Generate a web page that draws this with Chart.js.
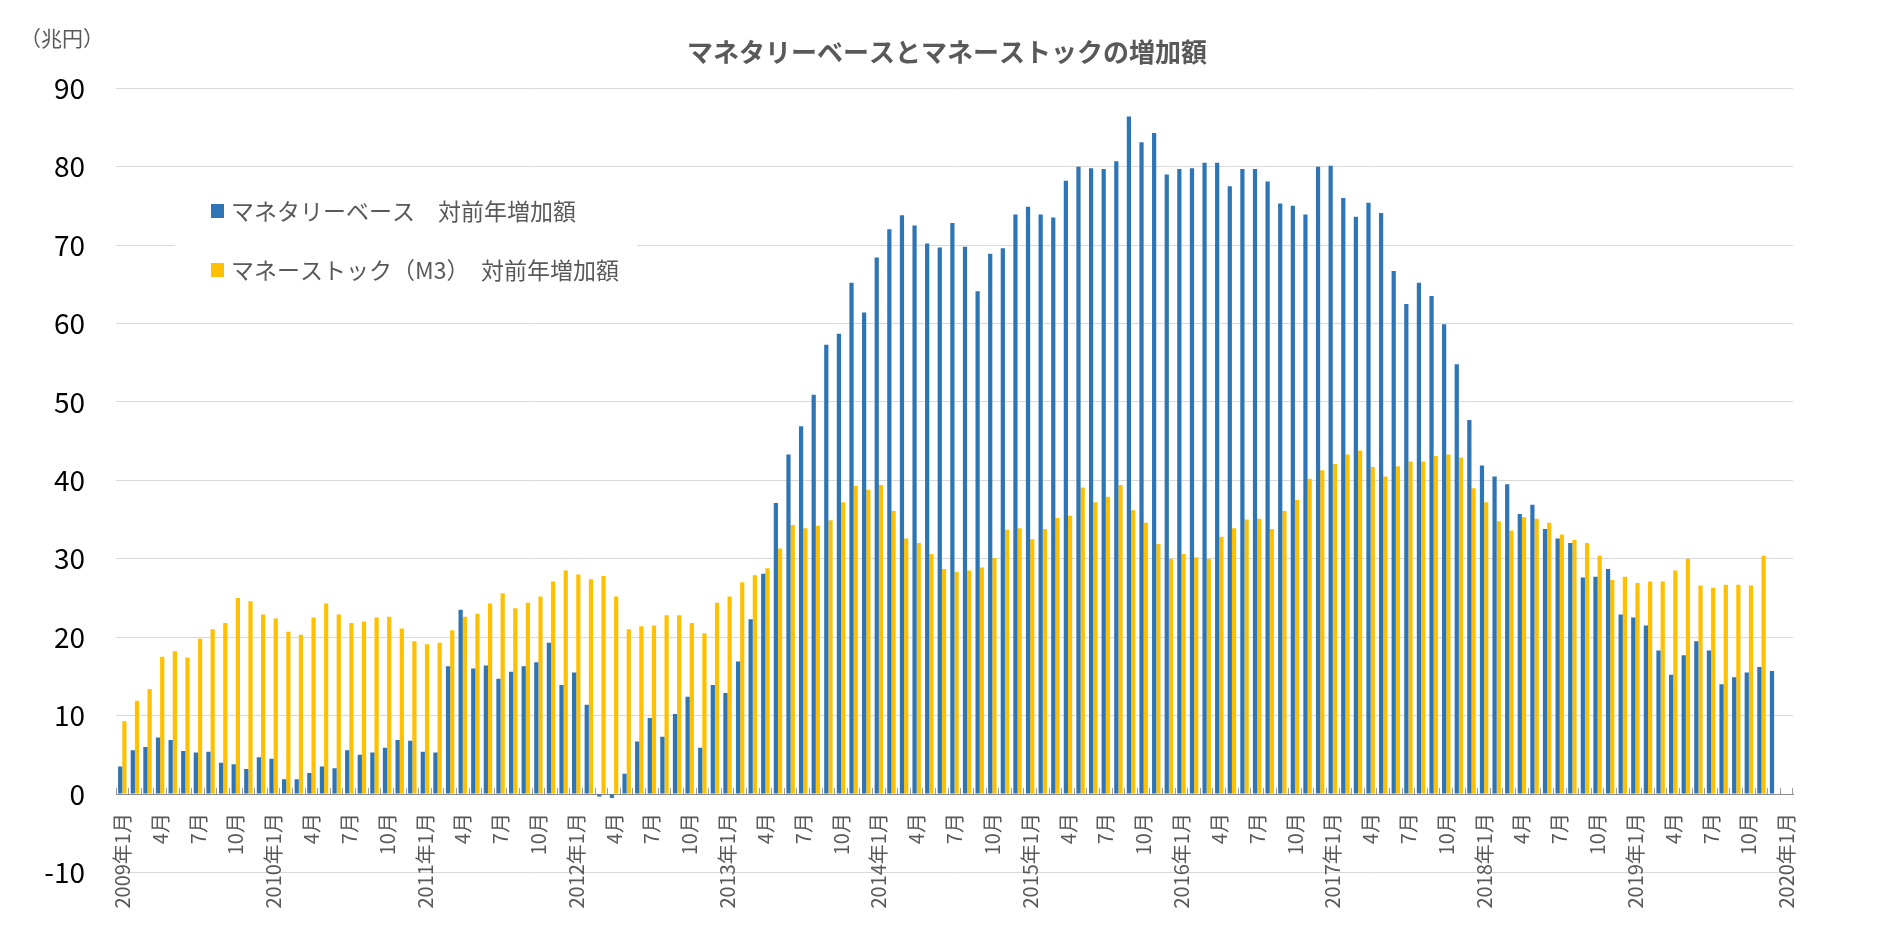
<!DOCTYPE html>
<html>
<head>
<meta charset="utf-8">
<script src="https://cdn.jsdelivr.net/npm/chart.js@4.4.1/dist/chart.umd.min.js"></script>
<style>
html,body{margin:0;padding:0;background:#fff;}
#wrap{width:1891px;height:946px;position:relative;}
</style>
</head>
<body>
<div id="wrap"><canvas id="c"></canvas></div>
<script>
const chartTitle = 'マネタリーベースとマネーストックの増加額';
const unitLabel = '（兆円）';
const seriesNames = ['マネタリーベース　対前年増加額', 'マネーストック（M3）　対前年増加額'];
const seriesColors = ['#2E75B6', '#FFC000'];

const categories = [
  '2009年1月','2月','3月','4月','5月','6月','7月','8月','9月','10月','11月','12月',
  '2010年1月','2月','3月','4月','5月','6月','7月','8月','9月','10月','11月','12月',
  '2011年1月','2月','3月','4月','5月','6月','7月','8月','9月','10月','11月','12月',
  '2012年1月','2月','3月','4月','5月','6月','7月','8月','9月','10月','11月','12月',
  '2013年1月','2月','3月','4月','5月','6月','7月','8月','9月','10月','11月','12月',
  '2014年1月','2月','3月','4月','5月','6月','7月','8月','9月','10月','11月','12月',
  '2015年1月','2月','3月','4月','5月','6月','7月','8月','9月','10月','11月','12月',
  '2016年1月','2月','3月','4月','5月','6月','7月','8月','9月','10月','11月','12月',
  '2017年1月','2月','3月','4月','5月','6月','7月','8月','9月','10月','11月','12月',
  '2018年1月','2月','3月','4月','5月','6月','7月','8月','9月','10月','11月','12月',
  '2019年1月','2月','3月','4月','5月','6月','7月','8月','9月','10月','11月','12月',
  '2020年1月'
];

// マネタリーベース 対前年増加額 (兆円)
const monetaryBase = [
  3.5, 5.6, 6.0, 7.2, 6.9, 5.5, 5.3, 5.4, 4.0, 3.8, 3.2, 4.7,
  4.5, 1.9, 1.9, 2.7, 3.5, 3.3, 5.6, 5.0, 5.3, 5.9, 6.9, 6.8,
  5.4, 5.3, 16.3, 23.5, 16.0, 16.4, 14.7, 15.6, 16.3, 16.8, 19.3, 13.9,
  15.5, 11.4, -0.3, -0.5, 2.6, 6.7, 9.7, 7.3, 10.2, 12.4, 5.9, 13.9,
  12.9, 16.9, 22.3, 28.1, 37.1, 43.3, 46.9, 50.9, 57.3, 58.7, 65.2, 61.4,
  68.4, 72.0, 73.8, 72.5, 70.2, 69.7, 72.8, 69.8, 64.1, 68.9, 69.6, 73.9,
  74.9, 73.9, 73.5, 78.2, 80.0, 79.8, 79.7, 80.7, 86.4, 83.1, 84.3, 79.0,
  79.7, 79.8, 80.5, 80.5, 77.5, 79.7, 79.7, 78.1, 75.3, 75.0, 73.9, 80.0,
  80.1, 76.0, 73.6, 75.4, 74.1, 66.7, 62.5, 65.2, 63.5, 59.9, 54.8, 47.7,
  41.9, 40.5, 39.5, 35.7, 36.9, 33.8, 32.6, 32.0, 27.6, 27.7, 28.7, 22.9,
  22.5, 21.5, 18.3, 15.2, 17.7, 19.5, 18.3, 14.0, 14.9, 15.5, 16.2, 15.7,
  null
];

// マネーストック(M3) 対前年増加額 (兆円)
const moneyStock = [
  9.3, 11.9, 13.4, 17.5, 18.2, 17.4, 19.8, 21.0, 21.8, 25.0, 24.6, 22.9,
  22.4, 20.7, 20.3, 22.5, 24.3, 22.9, 21.8, 22.0, 22.5, 22.6, 21.1, 19.5,
  19.1, 19.3, 20.9, 22.6, 23.0, 24.3, 25.6, 23.7, 24.4, 25.2, 27.1, 28.5,
  28.0, 27.4, 27.8, 25.2, 21.0, 21.4, 21.5, 22.8, 22.8, 21.8, 20.5, 24.4,
  25.2, 27.0, 27.9, 28.8, 31.3, 34.3, 33.9, 34.2, 34.9, 37.2, 39.3, 38.8,
  39.4, 36.1, 32.6, 32.0, 30.6, 28.7, 28.3, 28.5, 28.9, 30.1, 33.7, 33.9,
  32.5, 33.8, 35.2, 35.5, 39.1, 37.2, 37.9, 39.4, 36.2, 34.6, 31.9, 30.0,
  30.6, 30.2, 30.0, 32.8, 33.9, 35.0, 35.1, 33.8, 36.1, 37.5, 40.2, 41.3,
  42.1, 43.3, 43.8, 41.7, 40.5, 41.8, 42.4, 42.4, 43.1, 43.3, 42.9, 39.0,
  37.2, 34.8, 33.6, 35.3, 35.1, 34.6, 33.1, 32.4, 32.0, 30.4, 27.3, 27.7,
  26.9, 27.1, 27.1, 28.5, 30.0, 26.6, 26.3, 26.7, 26.7, 26.6, 30.4, null,
  null
];

const yMin = -10;
const yMax = 90;
const yStep = 10;

const decorPlugin = {
  id: 'decor',
  afterDraw(chart) {
    const ctx = chart.ctx;
    ctx.save();
    // unit label
    ctx.font = '21px "Noto Sans CJK JP"';
    ctx.fillStyle = '#595959';
    ctx.textAlign = 'left';
    ctx.textBaseline = 'middle';
    ctx.fillText(unitLabel, 20, 38);
    // legend background
    ctx.fillStyle = '#ffffff';
    ctx.fillRect(175, 182, 462, 122);
    // legend entries
    chart.data.datasets.forEach((ds, i) => {
      const cy = 211 + i * 59;
      ctx.fillStyle = ds.backgroundColor;
      ctx.fillRect(211, cy - 7, 13, 14);
      ctx.fillStyle = '#595959';
      ctx.font = '23px "Noto Sans CJK JP"';
      ctx.textAlign = 'left';
      ctx.textBaseline = 'middle';
      ctx.fillText(ds.label, 231, cy);
    });
    ctx.restore();
  }
};

new Chart(document.getElementById('c'), {
  type: 'bar',
  data: {
    labels: categories,
    datasets: [
      { label: seriesNames[0], data: monetaryBase, backgroundColor: seriesColors[0], categoryPercentage: 0.67, barPercentage: 1.0 },
      { label: seriesNames[1], data: moneyStock, backgroundColor: seriesColors[1], categoryPercentage: 0.67, barPercentage: 1.0 }
    ]
  },
  options: {
    responsive: true,
    maintainAspectRatio: false,
    animation: false,
    devicePixelRatio: 1,
    layout: { padding: { left: 3, right: 0, top: 0, bottom: 73.5 } },
    plugins: {
      legend: { display: false },
      tooltip: { enabled: false },
      title: {
        display: true,
        text: chartTitle,
        color: '#595959',
        font: { family: 'Noto Sans CJK JP', size: 26, weight: 'bold', lineHeight: 1.2 },
        padding: { top: 37, bottom: 20 }
      }
    },
    scales: {
      x: {
        position: { y: 0 },
        grid: { drawOnChartArea: false, drawTicks: true, tickLength: -7, color: '#9a9a9a', offset: true },
        border: { display: true, color: '#8c8c8c', width: 1 },
        ticks: {
          autoSkip: false,
          maxRotation: 90,
          minRotation: 90,
          padding: 26,
          color: '#595959',
          font: { family: 'Noto Sans CJK JP', size: 20 },
          callback: (v, i) => (i % 3 === 0 ? categories[i] : '')
        }
      },
      y: {
        min: yMin,
        max: yMax,
        ticks: {
          stepSize: yStep,
          padding: 31,
          color: '#000000',
          font: { family: 'Noto Sans CJK JP', size: 28 }
        },
        grid: {
          color: (c) => (c.tick && c.tick.value === 0 ? 'rgba(0,0,0,0)' : '#d9d9d9'),
          drawTicks: false,
          lineWidth: 1
        },
        border: { display: false },
        afterFit: (s) => { s.width = 113; }
      },
      yRight: {
        position: 'right',
        display: true,
        grid: { display: false, drawOnChartArea: false },
        border: { display: false },
        ticks: { display: false },
        afterFit: (s) => { s.width = 98; }
      }
    }
  },
  plugins: [decorPlugin]
});
</script>
</body>
</html>
